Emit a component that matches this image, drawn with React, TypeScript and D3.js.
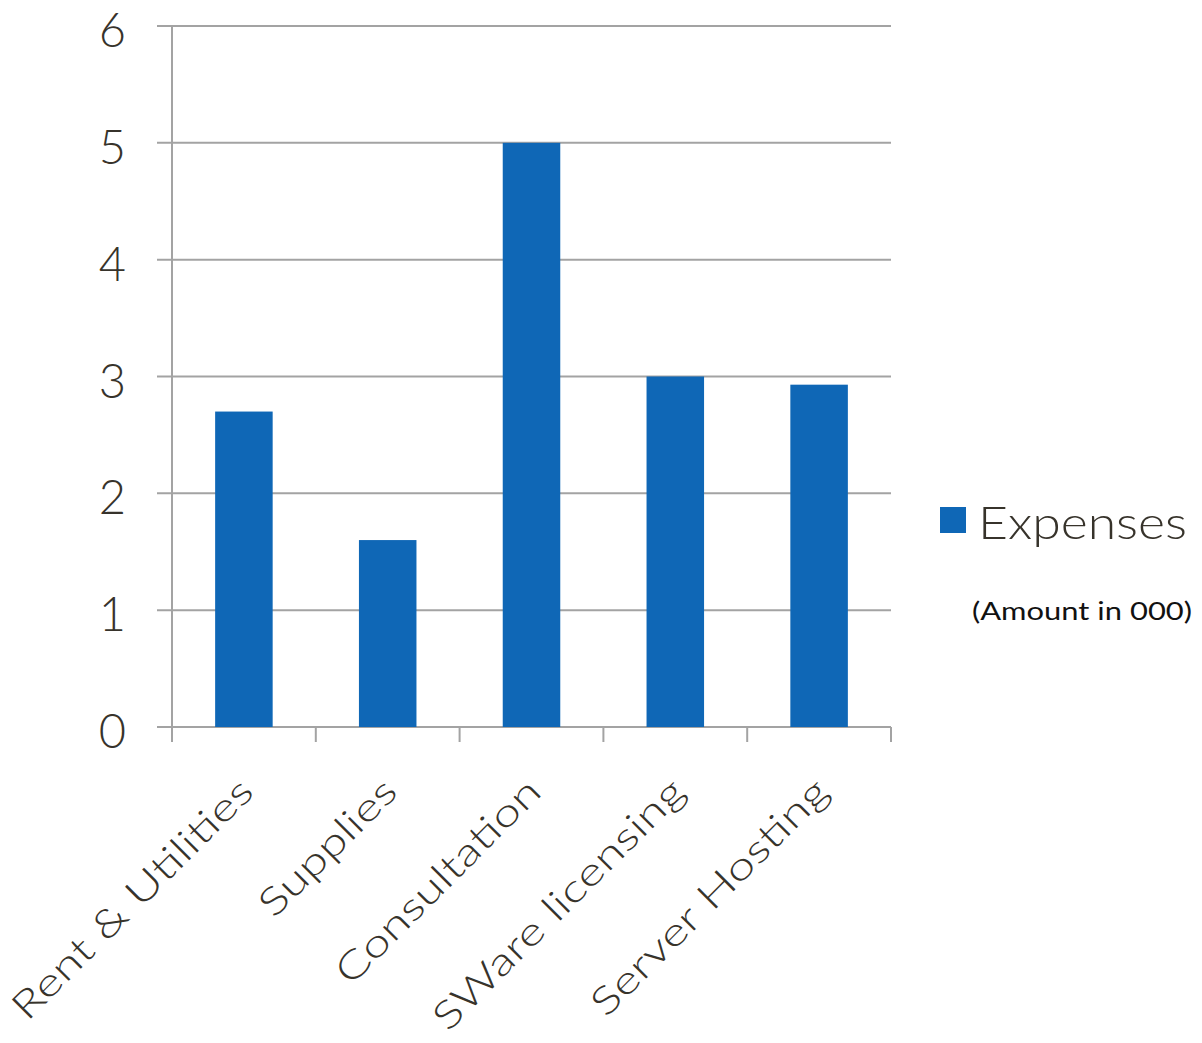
import React from "react";
import * as d3 from "d3";

const categories = ["Rent & Utilities", "Supplies", "Consultation", "SWare licensing", "Server Hosting"];
const expenses = [2.7, 1.6, 5, 3, 2.93];
const yTicks = [0, 1, 2, 3, 4, 5, 6];
const seriesName = "Expenses";
const note = "(Amount in 000)";

const W = 1202;
const H = 1043;
const FONT = "Lato, 'Open Sans', sans-serif";
const TEXT = "#37332b";
const GRID = "#a3a3a3";
const BAR = "#0f67b6";

export default function App() {
  const x = d3.scaleBand<string>().domain(categories).range([172, 891]).paddingInner(0.6).paddingOuter(0.3);
  const band = d3.scaleBand<string>().domain(categories).range([172, 891]);
  const y = d3.scaleLinear().domain([0, 6]).range([727, 26]);
  const bounds = d3.range(categories.length + 1).map((i) => 172 + i * band.step());

  return (
    <svg width={W} height={H} style={{ position: "absolute", left: 0, top: 0, background: "#fff" }}>
      {yTicks.map((t) => (
        <g key={t}>
          <line x1={157} x2={891} y1={y(t)} y2={y(t)} stroke={GRID} strokeWidth={2} />
          <text
            x={126}
            y={y(t)}
            dy="0.45em"
            textAnchor="end"
            fontFamily={FONT}
            fontWeight={300}
            fontSize={47}
            fill={TEXT}
          >
            {t}
          </text>
        </g>
      ))}
      <line x1={172} x2={172} y1={26} y2={742} stroke={GRID} strokeWidth={2} />
      {bounds.map((bx, i) => (
        <line key={i} x1={bx} x2={bx} y1={727} y2={742} stroke={GRID} strokeWidth={2} />
      ))}
      {categories.map((c, i) => (
        <rect key={c} x={x(c)} y={y(expenses[i])} width={x.bandwidth()} height={y(0) - y(expenses[i])} fill={BAR} />
      ))}
      {categories.map((c) => {
        const cx = (band(c) as number) + band.bandwidth() / 2 - 7;
        const cy = 775;
        return (
          <text
            key={c}
            transform={`translate(${cx},${cy}) rotate(-45) scale(1.31,1)`}
            textAnchor="end"
            dy="0.7em"
            fontFamily={FONT}
            fontWeight={300}
            fontSize={38}
            fill={TEXT}
          >
            {c}
          </text>
        );
      })}
      <rect x={940} y={507} width={26} height={26} fill={BAR} />
      <text
        x={978}
        y={539}
        fontFamily={FONT}
        fontWeight={300}
        fontSize={46}
        fill={TEXT}
        textLength={209}
        lengthAdjust="spacingAndGlyphs"
      >
        {seriesName}
      </text>
      <text
        x={972}
        y={620}
        fontFamily={FONT}
        fontSize={25}
        fill="#111"
        textLength={220}
        lengthAdjust="spacingAndGlyphs"
      >
        {note}
      </text>
    </svg>
  );
}
